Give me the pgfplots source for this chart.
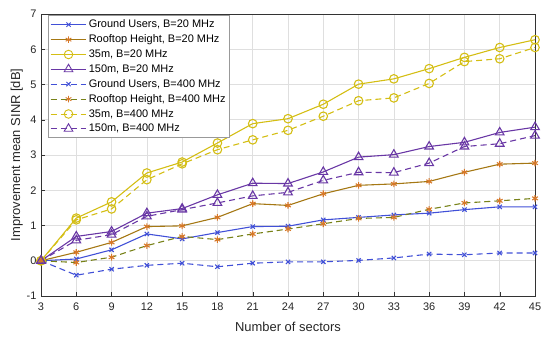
\documentclass[border=0pt]{standalone}
\usepackage{pgfplots}
\pgfplotsset{compat=1.18}
\usepackage{fontspec}
\setmainfont{Liberation Sans}
\definecolor{cblue}{RGB}{65,80,215}
\definecolor{cgreen}{RGB}{120,130,25}
\definecolor{cbrown}{RGB}{165,120,20}
\definecolor{corange}{RGB}{215,120,40}
\definecolor{cyellow}{RGB}{212,190,20}
\definecolor{cpurple}{RGB}{105,55,165}
\begin{document}
\begin{tikzpicture}
\begin{axis}[
  name=ax,
  scale only axis,
  width=494bp, height=282bp,
  xmin=3, xmax=45, ymin=-1, ymax=7,
  xtick={3,6,...,45}, ytick={-1,0,...,7},
  grid=major,
  major grid style={draw=gray!25, line width=0.6pt},
  axis line style={draw=black!80},
  tick style={draw=black!80},
  tick align=inside,
  xtick pos=bottom, ytick pos=left,
  tick label style={font=\fontsize{11}{13}\selectfont, text=black!85},
  label style={font=\fontsize{13}{15}\selectfont, text=black!85},
  /pgf/number format/assume math mode=true,
  xlabel={Number of sectors},
  ylabel={Improvement mean SINR [dB]},
  xticklabel style={yshift=-3pt},
  yticklabel style={xshift=-1pt},
  xlabel style={yshift=-5pt},
  ylabel style={yshift=-3pt},
  legend style={at={(rel axis cs:0.014,0.996)}, anchor=north west,
    draw=gray!80, fill=white, line width=0.6pt,
    font=\fontsize{11}{12.5}\selectfont, row sep=1.6pt,
    inner xsep=2pt, inner ysep=2.5pt},
  legend cell align=left,
  legend image post style={line width=0.9pt},
  every axis plot/.append style={line width=1.1pt},
  legend image code/.code={
    \draw[mark repeat=2,mark phase=2] plot coordinates {(0cm,0cm) (0.63cm,0cm) (1.26cm,0cm)};
  },
]
% Ground users B=20
\addplot[color=cblue, mark=x, mark size=3pt] coordinates {
(3,0) (6,0.05) (9,0.31) (12,0.76) (15,0.62) (18,0.80) (21,0.97) (24,0.98) (27,1.16) (30,1.23) (33,1.30) (36,1.35) (39,1.45) (42,1.53) (45,1.53)};
\addlegendentry{Ground Users, B=20 MHz}
% Rooftop B=20
\addplot[color=cbrown, mark=asterisk, mark size=3.3pt, mark options={draw=corange}] coordinates {
(3,0) (6,0.24) (9,0.52) (12,0.97) (15,0.99) (18,1.23) (21,1.62) (24,1.57) (27,1.90) (30,2.14) (33,2.18) (36,2.25) (39,2.51) (42,2.74) (45,2.77)};
\addlegendentry{Rooftop Height, B=20 MHz}
% 35m B=20
\addplot[color=cyellow, mark=o, mark size=4.3pt] coordinates {
(3,0) (6,1.21) (9,1.67) (12,2.49) (15,2.80) (18,3.34) (21,3.89) (24,4.03) (27,4.44) (30,5.01) (33,5.16) (36,5.45) (39,5.77) (42,6.05) (45,6.27)};
\addlegendentry{35m, B=20 MHz}
% 150m B=20
\addplot[color=cpurple, mark=triangle, mark size=5pt] coordinates {
(3,0) (6,0.69) (9,0.83) (12,1.35) (15,1.48) (18,1.87) (21,2.20) (24,2.19) (27,2.52) (30,2.94) (33,3.01) (36,3.24) (39,3.36) (42,3.64) (45,3.79)};
\addlegendentry{150m, B=20 MHz}
% Ground users B=400
\addplot[color=cblue, dash pattern=on 6bp off 4bp, mark=x, mark size=3pt, mark options={solid}] coordinates {
(3,0) (6,-0.41) (9,-0.24) (12,-0.13) (15,-0.07) (18,-0.17) (21,-0.07) (24,-0.03) (27,-0.03) (30,0.01) (33,0.08) (36,0.19) (39,0.17) (42,0.22) (45,0.22)};
\addlegendentry{Ground Users, B=400 MHz}
% Rooftop B=400
\addplot[color=cgreen, dash pattern=on 6bp off 4bp, mark=asterisk, mark size=3.3pt, mark options={solid, draw=corange}] coordinates {
(3,0) (6,-0.05) (9,0.10) (12,0.43) (15,0.69) (18,0.60) (21,0.76) (24,0.90) (27,1.05) (30,1.20) (33,1.23) (36,1.46) (39,1.64) (42,1.70) (45,1.77)};
\addlegendentry{Rooftop Height, B=400 MHz}
% 35m B=400
\addplot[color=cyellow, dash pattern=on 6bp off 4bp, mark=o, mark size=4.3pt, mark options={solid}] coordinates {
(3,0) (6,1.16) (9,1.47) (12,2.30) (15,2.75) (18,3.15) (21,3.43) (24,3.70) (27,4.10) (30,4.54) (33,4.62) (36,5.03) (39,5.65) (42,5.73) (45,6.05)};
\addlegendentry{35m, B=400 MHz}
% 150m B=400
\addplot[color=cpurple, dash pattern=on 6bp off 4bp, mark=triangle, mark size=5pt, mark options={solid}] coordinates {
(3,0) (6,0.58) (9,0.74) (12,1.26) (15,1.45) (18,1.64) (21,1.84) (24,1.94) (27,2.28) (30,2.51) (33,2.50) (36,2.77) (39,3.24) (42,3.32) (45,3.55)};
\addlegendentry{150m, B=400 MHz}
\end{axis}
\pgfresetboundingbox
\path ([xshift=-41bp,yshift=-44bp]ax.south west) rectangle ([xshift=15bp,yshift=14bp]ax.north east);
\end{tikzpicture}
\end{document}
